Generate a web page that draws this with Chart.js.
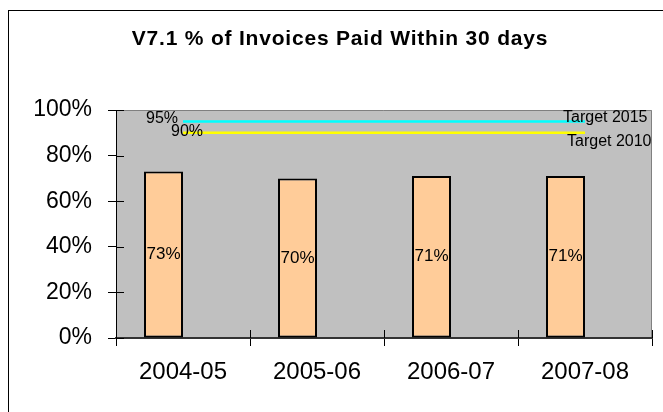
<!DOCTYPE html>
<html>
<head>
<meta charset="utf-8">
<script src="https://cdn.jsdelivr.net/npm/chart.js@4.4.1/dist/chart.umd.min.js"></script>
<style>
html,body{margin:0;padding:0;background:#fff;overflow:hidden;}
#wrap{width:663px;height:412px;position:relative;}
canvas{display:block;}
</style>
</head>
<body>
<div id="wrap"><canvas id="c" width="663" height="412"></canvas></div>
<script>
const chartTitle = 'V7.1 % of Invoices Paid Within 30 days';
const categories = ['2004-05', '2005-06', '2006-07', '2007-08'];
const paidPct = [73, 70, 71, 71];
const target2015 = [95, 95, 95, 95];
const target2010 = [90, 90, 90, 90];
const targetNames = ['Target 2015', 'Target 2010'];
const yTickValues = [0, 20, 40, 60, 80, 100];

const FONT = '"Liberation Sans", Arial, sans-serif';

const decor = {
  id: 'decor',
  beforeDraw(chart) {
    const {ctx, chartArea: a} = chart;
    ctx.save();
    ctx.fillStyle = '#ffffff';
    ctx.fillRect(0, 0, chart.width, chart.height);
    ctx.fillStyle = '#C0C0C0';
    ctx.fillRect(a.left, a.top, a.right - a.left, a.bottom - a.top);
    ctx.strokeStyle = '#808080';
    ctx.lineWidth = 1;
    ctx.beginPath();
    ctx.moveTo(a.left, a.top + 0.5);
    ctx.lineTo(a.right - 0.5, a.top + 0.5);
    ctx.lineTo(a.right - 0.5, a.bottom);
    ctx.stroke();
    ctx.strokeStyle = '#000';
    ctx.strokeRect(8.5, 10.5, 700, 500);
    ctx.fillStyle = '#000';
    ctx.font = 'bold 21px ' + FONT;
    ctx.textAlign = 'center';
    ctx.textBaseline = 'middle';
    if ('letterSpacing' in ctx) ctx.letterSpacing = '0.8px';
    ctx.fillText(chartTitle, 340, 39);
    if ('letterSpacing' in ctx) ctx.letterSpacing = '0px';
    ctx.restore();
  },
  afterDraw(chart) {
    const {ctx, chartArea: a} = chart;
    const ys = chart.scales.y, xs = chart.scales.x;
    ctx.save();
    ctx.strokeStyle = '#000';
    ctx.lineWidth = 1;
    ctx.beginPath();
    yTickValues.forEach(v => {
      const y = Math.round(ys.getPixelForValue(v)) + 0.5;
      ctx.moveTo(a.left, y);
      ctx.lineTo(a.left + 8, y);
    });
    const step = xs.getPixelForTick(1) - xs.getPixelForTick(0);
    for (let i = 0; i <= categories.length; i++) {
      const x = Math.round(xs.getPixelForTick(0) - step / 2 + i * step) + 0.5;
      ctx.moveTo(x, a.bottom - 8);
      ctx.lineTo(x, a.bottom);
    }
    ctx.stroke();

    ctx.fillStyle = '#000';
    ctx.font = '17px ' + FONT;
    ctx.textAlign = 'center';
    ctx.textBaseline = 'middle';
    chart.getDatasetMeta(0).data.forEach((bar, i) => {
      const cy = (bar.y + bar.base) / 2;
      ctx.fillText(paidPct[i] + '%', bar.x, cy);
    });

    ctx.font = '16px ' + FONT;
    const m2015 = chart.getDatasetMeta(2).data;
    const m2010 = chart.getDatasetMeta(3).data;
    ctx.textAlign = 'right';
    ctx.fillText(target2015[0] + '%', m2015[0].x - 5, m2015[0].y - 3);
    ctx.textAlign = 'center';
    ctx.fillText(target2010[0] + '%', m2010[0].x + 4, m2010[0].y - 1);
    ctx.textAlign = 'left';
    const l15 = m2015[m2015.length - 1], l10 = m2010[m2010.length - 1];
    ctx.fillText(targetNames[0], l15.x - 22, l15.y - 4);
    ctx.fillText(targetNames[1], l10.x - 18, l10.y + 9);
    ctx.restore();
  }
};

new Chart(document.getElementById('c'), {
  type: 'bar',
  data: {
    labels: categories,
    datasets: [
      {
        label: '% Paid',
        data: paidPct,
        backgroundColor: '#FFCC99',
        borderColor: '#000000',
        borderWidth: 2,
        borderSkipped: false,
        categoryPercentage: 0.582,
        barPercentage: 1.0,
        order: 2
      },
      {
        label: 'blank',
        data: [null, null, null, null],
        backgroundColor: 'rgba(0,0,0,0)',
        borderWidth: 0,
        categoryPercentage: 0.582,
        barPercentage: 1.0,
        order: 3
      },
      {
        type: 'line',
        label: targetNames[0],
        data: target2015,
        borderColor: '#00FFFF',
        borderWidth: 2.5,
        pointRadius: 0,
        fill: false,
        order: 1
      },
      {
        type: 'line',
        label: targetNames[1],
        data: target2010,
        borderColor: '#FFFF00',
        borderWidth: 2.5,
        pointRadius: 0,
        fill: false,
        order: 1
      }
    ]
  },
  options: {
    responsive: false,
    animation: false,
    devicePixelRatio: 1,
    layout: { padding: { left: 0, right: 11, top: 110, bottom: 0 } },
    plugins: {
      legend: { display: false },
      title: { display: false },
      tooltip: { enabled: false }
    },
    scales: {
      x: {
        offset: true,
        grid: { offset: true, drawOnChartArea: false, drawTicks: true, tickLength: 8, color: '#000' },
        border: { display: true, color: '#333', width: 2 },
        ticks: { color: '#000', font: { family: FONT, size: 24 }, padding: 12, maxRotation: 0 },
        afterFit(s) { s.height = 74; }
      },
      y: {
        min: 0,
        max: 100,
        afterBuildTicks(s) { s.ticks = yTickValues.map(v => ({ value: v })); },
        grid: { drawOnChartArea: false, drawTicks: true, tickLength: 8, color: '#000' },
        border: { display: true, color: '#000', width: 1 },
        ticks: { color: '#000', font: { family: FONT, size: 23 }, padding: 16, callback: v => v + '%' },
        afterFit(s) { s.width = 116; }
      }
    }
  },
  plugins: [decor]
});
</script>
</body>
</html>
